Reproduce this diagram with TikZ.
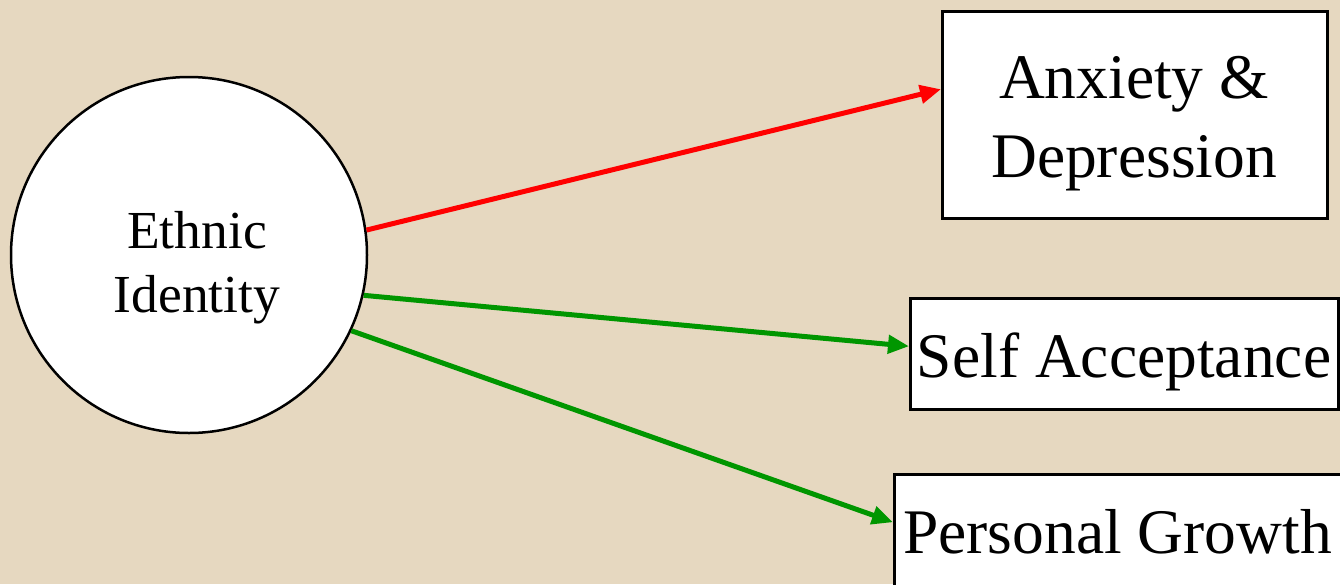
\documentclass[tikz,border=0pt]{standalone}
\usepackage{fontspec}
\setmainfont{Liberation Serif}
\usetikzlibrary{arrows.meta,calc}
\definecolor{parch}{RGB}{230,216,192}
\definecolor{arrred}{RGB}{255,0,0}
\definecolor{arrgreen}{RGB}{0,150,0}
\tikzset{
  outbox/.style={draw=black,line width=2.5pt,fill=white,inner sep=0pt},
  latent/.style={draw=black,line width=2.5pt,fill=white,circle,inner sep=0pt,minimum size=356pt},
  bigtext/.style={inner sep=0pt,align=center,anchor=base,font=\fontsize{63.5}{79}\selectfont},
  smalltext/.style={inner sep=0pt,align=center,anchor=base,font=\fontsize{53.5}{64}\selectfont},
  path/.style={line width=5pt,-{Triangle[length=21pt,width=18pt]}},
}
\begin{document}
\begin{tikzpicture}[x=1pt,y=-1pt]
\useasboundingbox (0,0) rectangle (1340,584);
\fill[parch] (0,0) rectangle (1340,584);
\node[latent] (eth) at (189,255) {};
\node[smalltext] (ethtxt) at (197,312) {Ethnic\\Identity};
\node[outbox,anchor=north west,minimum width=385pt,minimum height=207pt] (anx) at (941,10) {};
\node[bigtext] (anxtxt) at (1134,177) {Anxiety \&\\Depression};
\node[outbox,anchor=north west,minimum width=428pt,minimum height=111pt] (self) at (909,297) {};
\node[bigtext] (selftxt) at (1124,377) {Self Acceptance};
\node[outbox,anchor=north west,minimum width=460pt,minimum height=128pt] (grow) at (893,473) {};
\node[bigtext,anchor=base west] (growtxt) at (903,553) {Personal Growth};
\draw[path,arrred] (eth.8) -- ([yshift=25.5pt]anx.west);
\draw[path,arrgreen] (eth.-13) -- ([yshift=7.5pt]self.west);
\draw[path,arrgreen] (eth.-25) -- ([yshift=16pt]grow.west);
\end{tikzpicture}
\end{document}
